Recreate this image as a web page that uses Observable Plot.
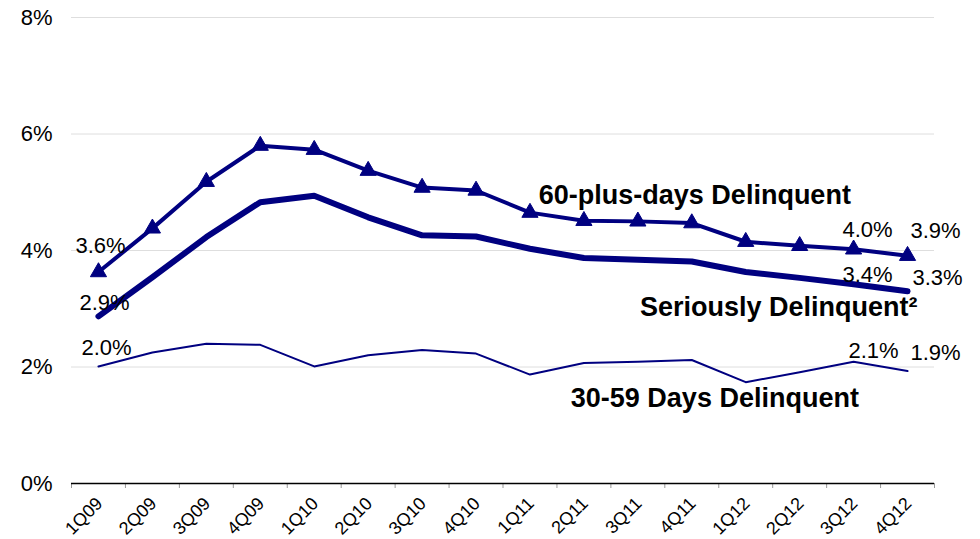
<!DOCTYPE html>
<html>
<head>
<meta charset="utf-8">
<script src="https://cdn.jsdelivr.net/npm/d3@7"></script>
<script src="https://cdn.jsdelivr.net/npm/@observablehq/plot@0.6"></script>
<style>
  body { margin: 0; background: #fff; }
  svg { display: block; }
</style>
</head>
<body>
<div id="chart"></div>
<script>
const quarters = ["1Q09","2Q09","3Q09","4Q09","1Q10","2Q10","3Q10","4Q10","1Q11","2Q11","3Q11","4Q11","1Q12","2Q12","3Q12","4Q12"];
const sixtyPlusDays = [3.63, 4.38, 5.18, 5.80, 5.73, 5.37, 5.08, 5.03, 4.65, 4.51, 4.50, 4.47, 4.15, 4.08, 4.02, 3.91];
const seriouslyDelinquent = [2.87, 3.54, 4.23, 4.83, 4.94, 4.57, 4.26, 4.24, 4.03, 3.87, 3.84, 3.81, 3.63, 3.53, 3.42, 3.30];
const thirtyToFiftyNine = [2.01, 2.25, 2.40, 2.38, 2.01, 2.20, 2.29, 2.23, 1.87, 2.07, 2.09, 2.12, 1.74, 1.91, 2.09, 1.93];
const yTicks = [0, 2, 4, 6, 8];
const seriesNames = ["60-plus-days Delinquent", "Seriously Delinquent\u00B2", "30-59 Days Delinquent"];

const W = 980, H = 539;
const mL = 71, mR = 46, mT = 17, mB = 56;
const step = (W - mL - mR) / quarters.length;
const navy = "#000080";

const toRows = (values) => quarters.map((q, i) => ({q, v: values[i]}));
const d60 = toRows(sixtyPlusDays);
const dSer = toRows(seriouslyDelinquent);
const d30 = toRows(thirtyToFiftyNine);

function at(data, q) { return [data.find(d => d.q === q)]; }
function valueLabel(data, q, dx, dy) {
  return Plot.text(at(data, q), {x: "q", y: "v", text: d => d.v.toFixed(1) + "%", dx, dy, fontSize: 22, fill: "#000"});
}
function nameLabel(data, q, name, dx, dy, anchor) {
  return Plot.text(at(data, q), {x: "q", y: "v", text: () => name, dx, dy, fontSize: 27, fontWeight: "bold", fill: "#000", textAnchor: anchor});
}

const chart = Plot.plot({
  width: W,
  height: H,
  marginLeft: mL,
  marginRight: mR,
  marginTop: mT,
  marginBottom: mB,
  style: {fontFamily: "'Liberation Sans', Arial, sans-serif", background: "#fff", color: "#000"},
  x: {type: "point", domain: quarters, padding: 0.5, round: false, label: null, axis: null},
  y: {domain: [0, 8], label: null},
  marks: [
    Plot.gridY({ticks: [2, 4, 6, 8], stroke: "#dedede", strokeOpacity: 1, strokeWidth: 1}),
    Plot.axisY({ticks: yTicks, tickFormat: d => d + "%", tickSize: 0, tickPadding: 19, fontSize: 22, label: null}),
    Plot.text(quarters, {x: d => d, y: 0, text: d => d, rotate: -45, textAnchor: "end", lineAnchor: "middle", dx: 1, dy: 17, fontSize: 18, fill: "#000"}),
    Plot.ruleX(quarters, {x: d => d, y1: 0, y2: 0, insetBottom: -5, dx: -step / 2, stroke: "#999"}),
    Plot.ruleX(quarters.slice(-1), {x: d => d, y1: 0, y2: 0, insetBottom: -5, dx: step / 2, stroke: "#999"}),
    Plot.ruleY([0], {stroke: "#000", strokeWidth: 1.5}),
    Plot.line(d30, {x: "q", y: "v", stroke: navy, strokeWidth: 2}),
    Plot.line(dSer, {x: "q", y: "v", stroke: navy, strokeWidth: 6}),
    Plot.line(d60, {x: "q", y: "v", stroke: navy, strokeWidth: 4}),
    Plot.dot(d60, {x: "q", y: "v", symbol: "triangle", r: 6, fill: navy, stroke: navy, strokeWidth: 1}),
    valueLabel(d60, "1Q09", 2, -26),
    valueLabel(dSer, "1Q09", 6, -13),
    valueLabel(d30, "1Q09", 8, -18),
    valueLabel(d60, "3Q12", 14, -19),
    valueLabel(d60, "4Q12", 28, -25),
    valueLabel(dSer, "3Q12", 14, -9),
    valueLabel(dSer, "4Q12", 30, -13),
    valueLabel(d30, "3Q12", 20, -11),
    valueLabel(d30, "4Q12", 28, -18),
    nameLabel(d60, "3Q11", seriesNames[0], 57, -26, "middle"),
    nameLabel(dSer, "4Q12", seriesNames[1], 10, 16, "end"),
    nameLabel(d30, "3Q11", seriesNames[2], 77, 37, "middle")
  ]
});
document.getElementById("chart").appendChild(chart);
</script>
</body>
</html>
